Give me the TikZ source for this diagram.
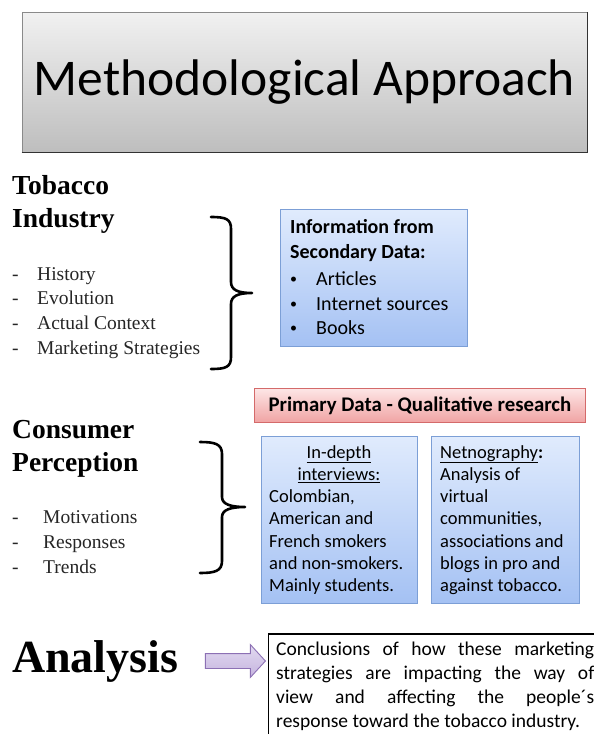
\documentclass[tikz,border=0pt]{standalone}
\usepackage{fontspec}
\setmainfont{Liberation Serif}
\newfontfamily\calfont{Carlito}
\usetikzlibrary{shapes.arrows}
\definecolor{tgtop}{HTML}{F1F1F1}
\definecolor{tgbot}{HTML}{BEBEBE}
\definecolor{tgline}{HTML}{8A8A8A}
\definecolor{bltop}{HTML}{E0EBFD}
\definecolor{blbot}{HTML}{A4C1F3}
\definecolor{blline}{HTML}{7C9FD6}
\definecolor{pktop}{HTML}{FDE6E6}
\definecolor{pkbot}{HTML}{F0A3A3}
\definecolor{pkline}{HTML}{D46A6A}
\definecolor{artop}{HTML}{E2DAF0}
\definecolor{arbot}{HTML}{C5B4DF}
\definecolor{arline}{HTML}{8C70B4}
\tikzset{
  titlebox/.style={draw=tgline, line width=1pt, top color=tgtop, bottom color=tgbot,
    minimum width=565pt, minimum height=140pt, inner sep=0pt,
    font=\calfont\fontsize{51.5}{58}\selectfont},
  heading/.style={anchor=base west, inner sep=0pt, font=\bfseries\fontsize{27.5}{30}\selectfont},
  bighead/.style={anchor=base west, inner sep=0pt, font=\bfseries\fontsize{46}{50}\selectfont},
  item/.style={anchor=base west, inner sep=0pt, font=\fontsize{19.5}{24}\selectfont, text=black!85},
  bluebox/.style={draw=blline, line width=0.8pt, top color=bltop, bottom color=blbot, inner sep=0pt},
  pinkbox/.style={draw=pkline, line width=0.8pt, top color=pktop, bottom color=pkbot, inner sep=0pt},
  btext/.style={anchor=base west, inner sep=0pt, font=\calfont\fontsize{20}{25}\selectfont},
  bul/.style={anchor=base west, inner sep=0pt, font=\calfont\fontsize{14}{25}\selectfont},
  stext/.style={anchor=base west, inner sep=0pt, font=\calfont\fontsize{18.5}{22}\selectfont},
  bracepath/.style={line width=2.6pt, line cap=round, line join=round},
  blockarrow/.style={single arrow, draw=arline, line width=0.9pt, top color=artop, bottom color=arbot,
    inner sep=7pt, minimum height=60pt, single arrow head extend=9pt, single arrow tip angle=95},
  concl/.style={draw=black, line width=1.8pt, anchor=north west, minimum width=340pt, minimum height=110pt},
}
\begin{document}
\begin{tikzpicture}[x=1pt,y=-1pt]
\useasboundingbox[fill=white] (0,0) rectangle (594,734);

% title
\node[titlebox] (title) at (304.5,82) {Methodological Approach};
\draw[black!80, line width=1.2pt] (title.south west) -- (title.south east) -- (title.north east);

% Tobacco industry
\node[heading] (tob1) at (12,194) {Tobacco};
\node[heading] (tob2) at (12,227) {Industry};
\foreach \t/\y [count=\i] in {History/280, Evolution/304.7, Actual Context/329.5, Marketing Strategies/354.3}{
  \node[item] (td\i) at (12,\y) {-};
  \node[item] (ti\i) at (37,\y) {\t};
}
\draw[bracepath] (211,217) .. controls (226,217) and (231,219) .. (231,229) -- (231,282)
  .. controls (231,290) and (238,293) .. (252,293)
  .. controls (238,293) and (231,296) .. (231,304) -- (231,357)
  .. controls (231,367) and (226,369) .. (211,369);

% secondary data box
\node[bluebox, anchor=north west, minimum width=187pt, minimum height=137pt] (sec) at (280,209) {};
\node[btext, font=\calfont\bfseries\fontsize{20}{25}\selectfont] (sec1) at (290,233) {Information from};
\node[btext, font=\calfont\bfseries\fontsize{20}{25}\selectfont] (sec2) at (290,258) {Secondary Data:};
\foreach \t/\y [count=\i] in {Articles/285, Internet sources/310, Books/334}{
  \node[bul] (sb\i) at (290,\y-2) {\textbullet};
  \node[btext] (st\i) at (316,\y) {\t};
}

% Consumer perception
\node[heading] (con1) at (12,438) {Consumer};
\node[heading] (con2) at (12,471) {Perception};
\foreach \t/\y [count=\i] in {Motivations/523, Responses/548, Trends/573}{
  \node[item] (cd\i) at (12,\y) {-};
  \node[item] (ci\i) at (43,\y) {\t};
}
\draw[bracepath] (200,442) .. controls (215,442) and (222,444) .. (222,454) -- (222,497)
  .. controls (222,504) and (230,507) .. (245,507)
  .. controls (230,507) and (222,510) .. (222,517) -- (222,561)
  .. controls (222,571) and (215,573) .. (200,573);

% primary data
\node[pinkbox, anchor=north west, minimum width=331pt, minimum height=34pt] (prim) at (254,388) {};
\node[btext, anchor=center, font=\calfont\bfseries\fontsize{20.8}{24}\selectfont] (primt) at (prim.center) {Primary Data - Qualitative research};

% in-depth box
\node[bluebox, anchor=north west, minimum width=156pt, minimum height=167pt] (ind) at (261,436) {};
\node[stext, anchor=base] (in1) at (339,458) {\underline{In-depth}};
\node[stext, anchor=base] (in2) at (339,480.3) {\underline{interviews:}};
\foreach \t/\y [count=\i] in {{Colombian,}/502.6, American and/524.9, French smokers/547.2, and non-smokers./569.5, Mainly students./591.8}{
  \node[stext] (inl\i) at (269,\y) {\t};
}

% netnography box
\node[bluebox, anchor=north west, minimum width=148pt, minimum height=167pt] (net) at (431,436) {};
\node[stext] (net1) at (440,458) {\underline{Netnography}\textbf{:}};
\foreach \t/\y [count=\i] in {Analysis of/480.3, virtual/502.6, {communities,}/524.9, associations and/547.2, blogs in pro and/569.5, against tobacco./591.8}{
  \node[stext] (netl\i) at (440,\y) {\t};
}

% analysis
\node[bighead] (ana) at (12,672) {Analysis};
\node[blockarrow] (arr) at (232,661) {};
\node[concl] (con) at (267.5,633) {};
\node[anchor=north west, inner sep=0pt, text width=318pt, align=justify,
  font=\calfont\fontsize{19.5}{23.8}\selectfont] (conct) at (276,642)
  {Conclusions of how these marketing\linebreak strategies are impacting the way of\linebreak view and affecting the people´s\linebreak response toward the tobacco industry.};
\end{tikzpicture}
\end{document}
